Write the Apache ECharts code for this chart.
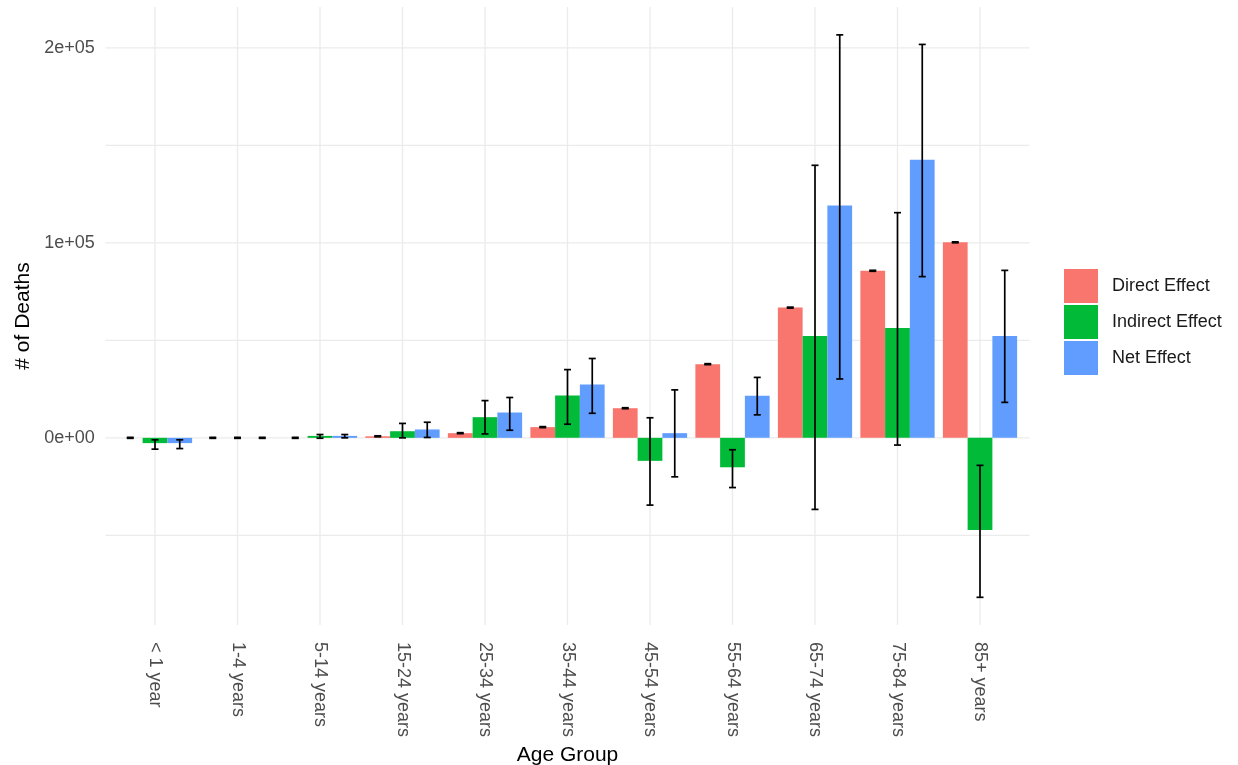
<!DOCTYPE html>
<html>
<head>
<meta charset="utf-8">
<script src="https://cdn.jsdelivr.net/npm/echarts@6/dist/echarts.min.js"></script>
<style>
html,body{margin:0;padding:0;background:#fff;}
#chart{width:1238px;height:765px;}
</style>
</head>
<body>
<div id="chart"></div>
<script>
const categories = ['< 1 year','1-4 years','5-14 years','15-24 years','25-34 years','35-44 years','45-54 years','55-64 years','65-74 years','75-84 years','85+ years'];

const direct     = [0, 0, 0, 800, 2400, 5500, 15200, 37800, 66800, 85700, 100300];
const directLow  = [-250, -250, -250, 550, 2150, 5250, 14950, 37550, 66550, 85450, 100050];
const directHigh = [250, 250, 250, 1050, 2650, 5750, 15450, 38050, 67050, 85950, 100550];

const indirect     = [-2700, 0, 1000, 3400, 10600, 21700, -11800, -15100, 52200, 56300, -47300];
const indirectLow  = [-5800, -250, -200, 0, 2000, 7000, -34500, -25500, -36700, -3700, -81800];
const indirectHigh = [-1000, 250, 1700, 7400, 19100, 35000, 10300, -6100, 139800, 115500, -14100];

const net     = [-2700, 0, 1000, 4300, 13000, 27300, 2400, 21600, 119200, 142700, 52200];
const netLow  = [-5500, -250, 0, 200, 3900, 12600, -20000, 11800, 30200, 82700, 18200];
const netHigh = [-1000, 250, 1700, 8000, 20700, 40700, 24600, 31000, 206700, 201800, 85900];

const seriesNames = ['Direct Effect', 'Indirect Effect', 'Net Effect'];
const seriesColors = ['#F8766D', '#00BA38', '#619CFF'];

const yGridValues = [-50000, 0, 50000, 100000, 150000, 200000];
const yTickValues = [0, 100000, 200000];
const yTickLabels = ['0e+00', '1e+05', '2e+05'];

const FONT = '"Liberation Sans", Arial, sans-serif';

const chart = echarts.init(document.getElementById('chart'));

function errRender(offset) {
  return function (params, api) {
    const i = api.value(0);
    const band = api.size([1, 0])[0];
    const cx = api.coord([i, 0])[0] + offset * band;
    const y1 = api.coord([i, api.value(1)])[1];
    const y2 = api.coord([i, api.value(2)])[1];
    const hw = 3.5;
    const style = { stroke: '#000', lineWidth: 1.7 };
    return {
      type: 'group',
      children: [
        { type: 'line', shape: { x1: cx, y1: y1, x2: cx, y2: y2 }, style: style },
        { type: 'line', shape: { x1: cx - hw, y1: y1, x2: cx + hw, y2: y1 }, style: style },
        { type: 'line', shape: { x1: cx - hw, y1: y2, x2: cx + hw, y2: y2 }, style: style }
      ]
    };
  };
}

const lows = [directLow, indirectLow, netLow];
const highs = [directHigh, indirectHigh, netHigh];
const vals = [direct, indirect, net];
const offsets = [-0.3, 0, 0.3];

const series = [];

// vertical grid lines
series.push({
  type: 'custom', name: 'vgrid', silent: true, z: 0,
  data: categories.map((c, i) => [i, 0]),
  encode: { x: 0, y: 1 },
  renderItem: function (params, api) {
    const cs = params.coordSys;
    const x = api.coord([api.value(0), 0])[0];
    return { type: 'line', shape: { x1: x, y1: cs.y, x2: x, y2: cs.y + cs.height }, style: { stroke: '#EBEBEB', lineWidth: 1.3 } };
  }
});
// horizontal grid lines
series.push({
  type: 'custom', name: 'hgrid', silent: true, z: 0,
  data: yGridValues.map(v => [0, v]),
  encode: { x: 0, y: 1 },
  renderItem: function (params, api) {
    const cs = params.coordSys;
    const band = api.size([1, 0])[0];
    const ext = 0.1 * band;
    const y = api.coord([0, api.value(1)])[1];
    return { type: 'line', shape: { x1: cs.x - ext, y1: y, x2: cs.x + cs.width + ext, y2: y }, style: { stroke: '#EBEBEB', lineWidth: 1.3 } };
  }
});

for (let k = 0; k < 3; k++) {
  series.push({
    type: 'bar', name: seriesNames[k], data: vals[k], z: 2,
    barGap: '0%', barCategoryGap: '10%',
    itemStyle: { color: seriesColors[k] },
    emphasis: { disabled: true }
  });
}
for (let k = 0; k < 3; k++) {
  series.push({
    type: 'custom', name: seriesNames[k] + ' error', silent: true, z: 5,
    data: categories.map((c, i) => [i, lows[k][i], highs[k][i]]),
    encode: { x: 0, y: [1, 2] },
    renderItem: errRender(offsets[k])
  });
}

chart.setOption({
  animation: false,
  backgroundColor: '#fff',
  textStyle: { fontFamily: FONT },
  grid: { left: 113.75, width: 907.5, top: 7, height: 618, containLabel: false, outerBoundsMode: 'none' },
  legend: {
    data: seriesNames,
    orient: 'vertical',
    left: 1064, top: 269,
    padding: 0,
    itemWidth: 34, itemHeight: 34, itemGap: 2,
    icon: 'rect',
    textStyle: { fontSize: 18, color: '#1a1a1a', fontFamily: FONT, padding: [0, 0, 0, 9] },
    selectedMode: false
  },
  xAxis: {
    type: 'category',
    data: categories,
    axisLine: { show: false },
    axisTick: { show: false },
    splitLine: { show: false },
    axisLabel: { rotate: -90, interval: 0, margin: 17, color: '#4D4D4D', fontSize: 18, fontFamily: FONT },
    name: 'Age Group',
    nameLocation: 'middle',
    nameGap: 114,
    nameTextStyle: { fontSize: 21, color: '#000', fontFamily: FONT }
  },
  yAxis: {
    type: 'value',
    min: -96000, max: 221000,
    axisLine: { show: false },
    axisTick: { show: false },
    splitLine: { show: false },
    axisLabel: {
      customValues: yTickValues,
      margin: 19, color: '#4D4D4D', fontSize: 18, fontFamily: FONT,
      formatter: function (v) { const i = yTickValues.indexOf(v); return i >= 0 ? yTickLabels[i] : ''; }
    },
    name: '# of Deaths',
    nameLocation: 'middle',
    nameGap: 78,
    nameTextStyle: { fontSize: 21, color: '#000', fontFamily: FONT }
  },
  series: series
});
</script>
</body>
</html>
